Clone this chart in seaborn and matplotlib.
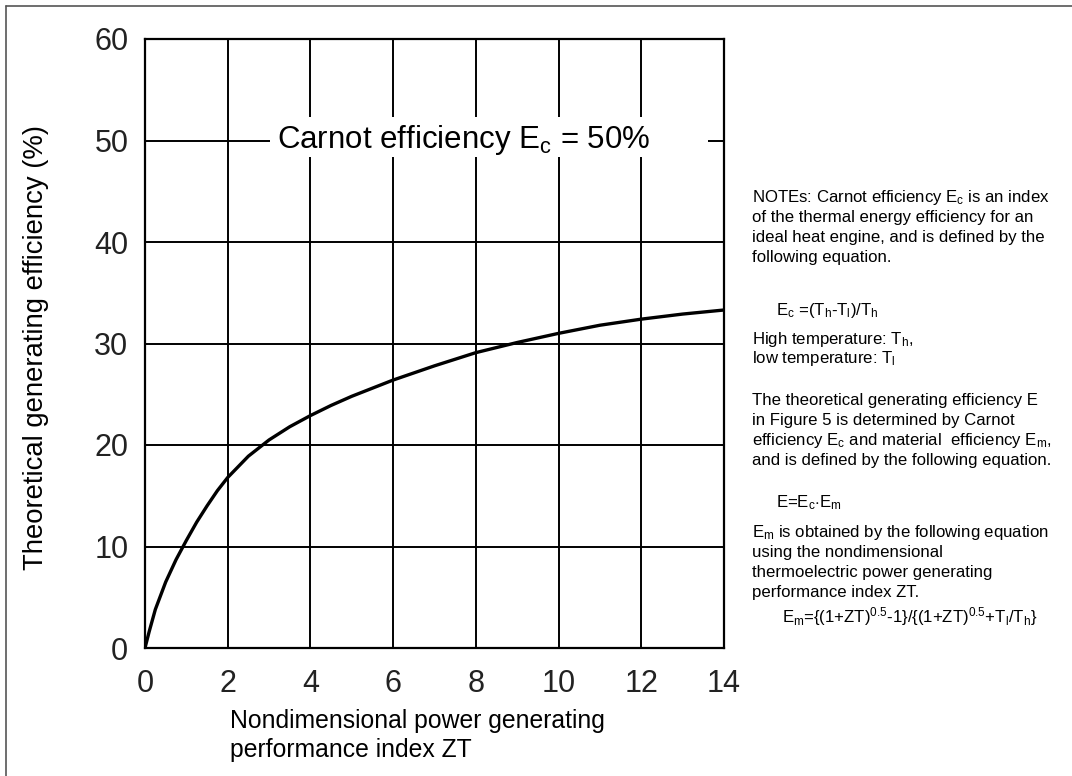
import matplotlib
matplotlib.use("Agg")
import matplotlib.pyplot as plt
from matplotlib.patches import Rectangle
from matplotlib.lines import Line2D
import seaborn as sns
import pandas as pd

# ---- data ----
zt = [0, 0.1, 0.25, 0.5, 0.75, 1, 1.25, 1.5, 1.75, 2, 2.5, 3, 3.5, 4, 4.5,
      5, 6, 7, 8, 9, 10, 11, 12, 13, 14]
efficiency = [0, 1.6, 3.8, 6.5, 8.7, 10.6, 12.4, 14.0, 15.5, 16.8, 18.9, 20.5,
              21.8, 22.9, 23.9, 24.8, 26.4, 27.8, 29.1, 30.1, 31.0, 31.8,
              32.4, 32.9, 33.3]
x_ticks = [0, 2, 4, 6, 8, 10, 12, 14]
y_ticks = [0, 10, 20, 30, 40, 50, 60]

carnot_label = "Carnot efficiency E$_{\\rm c}$ = 50%"
x_label = "Nondimensional power generating\nperformance index ZT"
y_label = "Theoretical generating efficiency (%)"

notes = [
    ("NOTEs: Carnot efficiency E$_{\\rm c}$ is an index", 0),
    ("of the thermal energy efficiency for an", 0),
    ("ideal heat engine, and is defined by the", 0),
    ("following equation.", 0),
    ("E$_{\\rm c}$ =(T$_{\\rm h}$-T$_{\\rm l}$)/T$_{\\rm h}$", 1),
    ("High temperature: T$_{\\rm h}$,", 0),
    ("low temperature: T$_{\\rm l}$", 0),
    ("The theoretical generating efficiency E", 0),
    ("in Figure 5 is determined by Carnot", 0),
    ("efficiency E$_{\\rm c}$ and material  efficiency E$_{\\rm m}$,", 0),
    ("and is defined by the following equation.", 0),
    ("E=E$_{\\rm c}$$\\cdot$E$_{\\rm m}$", 1),
    ("E$_{\\rm m}$ is obtained by the following equation", 0),
    ("using the nondimensional", 0),
    ("thermoelectric power generating", 0),
    ("performance index ZT.", 0),
    ("E$_{\\rm m}$=$\\{$(1+ZT)$^{\\rm 0.5}$-1$\\}$/$\\{$(1+ZT)$^{\\rm 0.5}$+T$_{\\rm l}$/T$_{\\rm h}$$\\}$", 2),
]
note_baselines = [202, 222, 242, 262, 315, 344, 363, 405, 425, 445, 465,
                  507, 537, 557, 577, 597, 622]

# ---- style ----
sns.set_theme(style="white")
plt.rcParams['font.family'] = ['Liberation Sans', 'DejaVu Sans']
plt.rcParams['mathtext.fontset'] = 'custom'
plt.rcParams['mathtext.rm'] = 'Liberation Sans'
plt.rcParams['mathtext.it'] = 'Liberation Sans'
plt.rcParams['mathtext.bf'] = 'Liberation Sans:bold'

W, H = 1072, 776
fig = plt.figure(figsize=(W / 100, H / 100), dpi=100)
fig.patch.set_facecolor("white")

ax = fig.add_axes([145 / W, 1 - 648 / H, (724 - 145) / W, (648 - 39) / H])

df = pd.DataFrame({"ZT": zt, "E": efficiency})
sns.lineplot(data=df, x="ZT", y="E", ax=ax, color="black", linewidth=2.4,
             zorder=3)

ax.set_xlim(0, 14)
ax.set_ylim(0, 60)
ax.set_xticks(x_ticks)
ax.set_yticks(y_ticks)
ax.grid(True, color="black", linewidth=1.4)
for s in ax.spines.values():
    s.set_visible(True)
    s.set_color("black")
    s.set_linewidth(1.6)
ax.tick_params(axis="both", length=0, labelsize=22, colors="#222222")
ax.tick_params(axis="x", pad=15)
ax.tick_params(axis="y", pad=12)

ax.set_xlabel(x_label, fontsize=17.8, ha="left", va="top", linespacing=1.25,
              color="black")
ax.xaxis.set_label_coords((230 - 145) / 579, (648 - 709) / 609)
ax.set_ylabel(y_label, fontsize=19.8, color="black")
ax.yaxis.set_label_coords((49 - 145) / 579, (648 - 348) / 609)

# white box behind Carnot label
ax.add_patch(Rectangle(((270 - 145) / 579, (648 - 157) / 609),
                       (708 - 270) / 579, 40 / 609,
                       transform=ax.transAxes, facecolor="white",
                       edgecolor="none", zorder=2))
ax.text(7.71, 49.3, carnot_label, fontsize=22.5, ha="center", va="baseline",
        color="black", zorder=4)

# notes
indents = {0: 752, 1: 776, 2: 782}
for (txt, ind), yb in zip(notes, note_baselines):
    fig.text(indents[ind] / W, 1 - yb / H, txt, fontsize=12.1, ha="left",
             va="baseline", color="black")

# outer frame lines (left and top)
fig.add_artist(Line2D([6 / W, 6 / W], [0, 1 - 6 / H], transform=fig.transFigure,
                      color="#555555", linewidth=1.2))
fig.add_artist(Line2D([6 / W, 1], [1 - 6 / H, 1 - 6 / H], transform=fig.transFigure,
                      color="#555555", linewidth=1.2))

fig.savefig("out.png", dpi=100)
